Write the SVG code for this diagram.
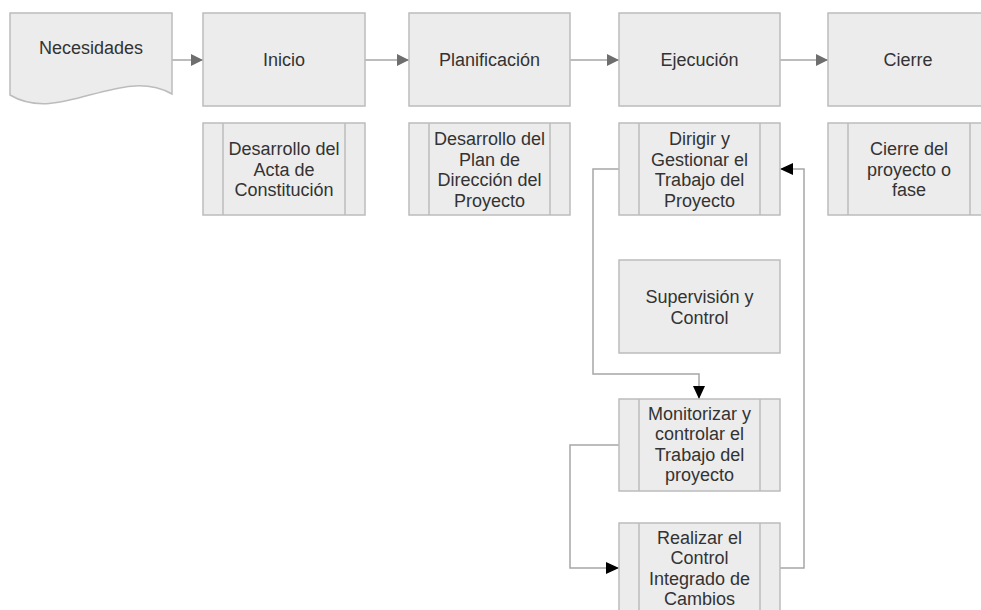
<svg xmlns="http://www.w3.org/2000/svg" width="981" height="610" viewBox="0 0 981 610">
  <style>
    .box { fill: #ececec; stroke: #bcbcbc; stroke-width: 1.5; }
    .inner { stroke: #bcbcbc; stroke-width: 1.5; fill: none; }
    .t { font-family: "Liberation Sans", Arial, sans-serif; font-size: 18px; fill: #333333; text-anchor: middle; }
    .c1 { fill: none; stroke: #a6a6a6; stroke-width: 1.5; }
    .c2 { fill: none; stroke: #a6a6a6; stroke-width: 1.5; }
  </style>
  <defs>
    <marker id="ag" markerUnits="userSpaceOnUse" markerWidth="12" markerHeight="12" refX="12" refY="6" orient="auto">
      <path d="M0,0 L12,6 L0,12 Z" fill="#6e6e6e"/>
    </marker>
    <marker id="ab" markerUnits="userSpaceOnUse" markerWidth="13" markerHeight="12" refX="13" refY="6" orient="auto">
      <path d="M0,0 L13,6 L0,12 Z" fill="#000000"/>
    </marker>
  </defs>
  <rect width="981" height="610" fill="#ffffff"/>

  <g id="connectors">
    <line class="c1" x1="172" y1="60" x2="203" y2="60" marker-end="url(#ag)"/>
    <line class="c1" x1="365" y1="60" x2="409" y2="60" marker-end="url(#ag)"/>
    <line class="c1" x1="570" y1="60" x2="619" y2="60" marker-end="url(#ag)"/>
    <line class="c1" x1="780" y1="60" x2="828" y2="60" marker-end="url(#ag)"/>
    <polyline class="c2" points="619,169 593,169 593,374 699,374 699,399" marker-end="url(#ab)"/>
    <polyline class="c2" points="619,445 570,445 570,568 619,568" marker-end="url(#ab)"/>
    <polyline class="c2" points="779,568 804,568 804,169 780,169" marker-end="url(#ab)"/>
  </g>

  <g id="necesidades">
    <path class="box" d="M10,13 H172 V94 C120,65 60,125 10,95 Z"/>
    <text class="t" x="91" y="54">Necesidades</text>
  </g>

  <g id="inicio">
    <rect class="box" x="203" y="13" width="162" height="93"/>
    <text class="t" x="284" y="66">Inicio</text>
  </g>
  <g id="planificacion">
    <rect class="box" x="409" y="13" width="161" height="93"/>
    <text class="t" x="489.5" y="66">Planificación</text>
  </g>
  <g id="ejecucion">
    <rect class="box" x="619" y="13" width="161" height="93"/>
    <text class="t" x="699.5" y="66">Ejecución</text>
  </g>
  <g id="cierre">
    <rect class="box" x="828" y="13" width="162" height="93"/>
    <text class="t" x="908" y="66">Cierre</text>
  </g>

  <g id="acta">
    <rect class="box" x="203" y="123" width="162" height="92"/>
    <line class="inner" x1="223" y1="123" x2="223" y2="215"/>
    <line class="inner" x1="345" y1="123" x2="345" y2="215"/>
    <text class="t" x="284" y="155">Desarrollo del</text>
    <text class="t" x="284" y="175.5">Acta de</text>
    <text class="t" x="284" y="196">Constitución</text>
  </g>
  <g id="plan">
    <rect class="box" x="409" y="123" width="161" height="92"/>
    <line class="inner" x1="429" y1="123" x2="429" y2="215"/>
    <line class="inner" x1="550" y1="123" x2="550" y2="215"/>
    <text class="t" x="489.5" y="145">Desarrollo del</text>
    <text class="t" x="489.5" y="165.5">Plan de</text>
    <text class="t" x="489.5" y="186">Dirección del</text>
    <text class="t" x="489.5" y="206.5">Proyecto</text>
  </g>
  <g id="dirigir">
    <rect class="box" x="619" y="123" width="161" height="92"/>
    <line class="inner" x1="639" y1="123" x2="639" y2="215"/>
    <line class="inner" x1="760" y1="123" x2="760" y2="215"/>
    <text class="t" x="699.5" y="145">Dirigir y</text>
    <text class="t" x="699.5" y="165.5">Gestionar el</text>
    <text class="t" x="699.5" y="186">Trabajo del</text>
    <text class="t" x="699.5" y="206.5">Proyecto</text>
  </g>
  <g id="cierre-proyecto">
    <rect class="box" x="828" y="123" width="162" height="92"/>
    <line class="inner" x1="848" y1="123" x2="848" y2="215"/>
    <line class="inner" x1="970" y1="123" x2="970" y2="215"/>
    <text class="t" x="909" y="155">Cierre del</text>
    <text class="t" x="909" y="175.5">proyecto o</text>
    <text class="t" x="909" y="196">fase</text>
  </g>

  <g id="supervision">
    <rect class="box" x="619" y="260" width="161" height="93"/>
    <text class="t" x="699.5" y="303">Supervisión y</text>
    <text class="t" x="699.5" y="323.5">Control</text>
  </g>
  <g id="monitorizar">
    <rect class="box" x="619" y="399" width="161" height="92"/>
    <line class="inner" x1="639" y1="399" x2="639" y2="491"/>
    <line class="inner" x1="760" y1="399" x2="760" y2="491"/>
    <text class="t" x="699.5" y="419.5">Monitorizar y</text>
    <text class="t" x="699.5" y="440">controlar el</text>
    <text class="t" x="699.5" y="460.5">Trabajo del</text>
    <text class="t" x="699.5" y="481">proyecto</text>
  </g>
  <g id="realizar">
    <rect class="box" x="619" y="523" width="161" height="92"/>
    <line class="inner" x1="639" y1="523" x2="639" y2="615"/>
    <line class="inner" x1="760" y1="523" x2="760" y2="615"/>
    <text class="t" x="699.5" y="543.5">Realizar el</text>
    <text class="t" x="699.5" y="564">Control</text>
    <text class="t" x="699.5" y="584.5">Integrado de</text>
    <text class="t" x="699.5" y="605">Cambios</text>
  </g>
</svg>
